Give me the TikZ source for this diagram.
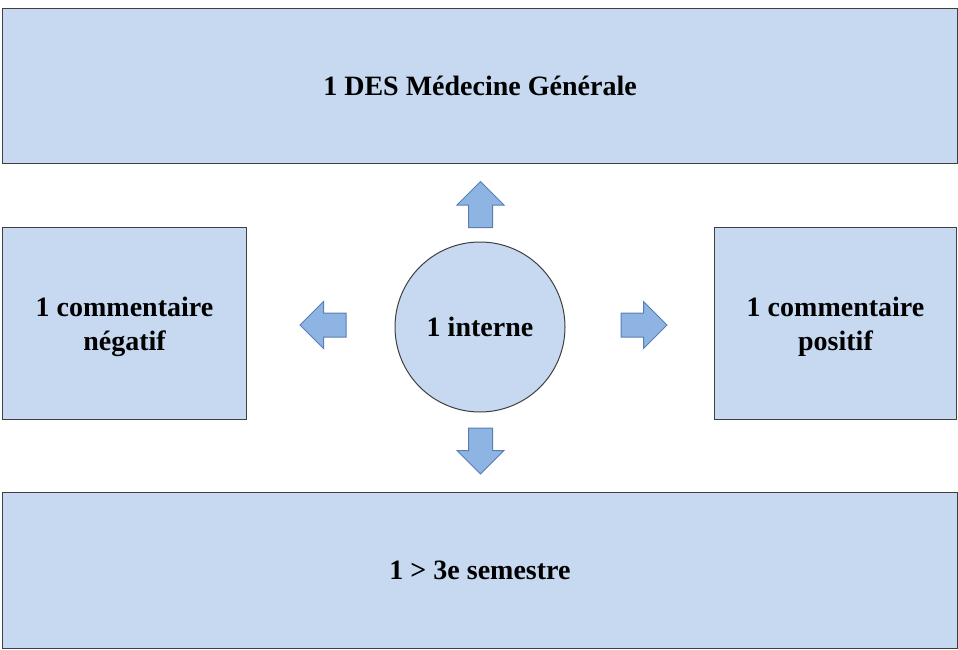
\documentclass[tikz,border=0pt]{standalone}
\usepackage{fontspec}
\setmainfont{Liberation Serif}
\usetikzlibrary{shapes.arrows}
\definecolor{boxfill}{RGB}{198,217,240}
\definecolor{boxline}{RGB}{64,64,64}
\definecolor{arrowfill}{RGB}{142,180,227}
\definecolor{arrowline}{RGB}{90,125,180}
\begin{document}
\begin{tikzpicture}
  [
    x = 1pt, y = -1pt,
    block/.style  = {shape=rectangle, draw=boxline, fill=boxfill,
                     line width=1pt, anchor=north west, inner sep=0pt,
                     align=center},
    centre/.style = {shape=circle, draw=boxline, fill=boxfill,
                     line width=1pt, minimum size=170pt, inner sep=0pt},
    % block arrows pointing away from the centre
    push/.style   = {shape=single arrow, draw=arrowline, fill=arrowfill,
                     line width=1pt, inner sep=0pt,
                     text width=23pt, text height=23pt, text depth=0pt,
                     minimum height=46pt,
                     single arrow head extend=11.5pt},
    every node/.style = {font=\bfseries\fontsize{28}{34}\selectfont}
  ]
  \useasboundingbox (0,0) rectangle (958,650);

  \node [block, minimum width=955pt, minimum height=155pt]
    (des) at (2,8) {1 DES Médecine Générale};
  \node [block, minimum width=244pt, minimum height=192pt, text depth=-3pt]
    (neg) at (2,227) {1 commentaire\\négatif};
  \node [block, minimum width=242pt, minimum height=192pt, text depth=-3pt]
    (pos) at (714,227) {1 commentaire\\positif};
  \node [block, minimum width=955pt, minimum height=156pt]
    (sem) at (2,492) {1 > 3e semestre};

  \node [centre] (interne) at (480,327) {1 interne};

  \node [push, shape border rotate=90]  (up)    at (480.5,210.5) {};
  \node [push, shape border rotate=180] (left)  at (329,325) {};
  \node [push, shape border rotate=0]   (right) at (638,325) {};
  \node [push, shape border rotate=270] (down)  at (480.5,445) {};
\end{tikzpicture}
\end{document}
